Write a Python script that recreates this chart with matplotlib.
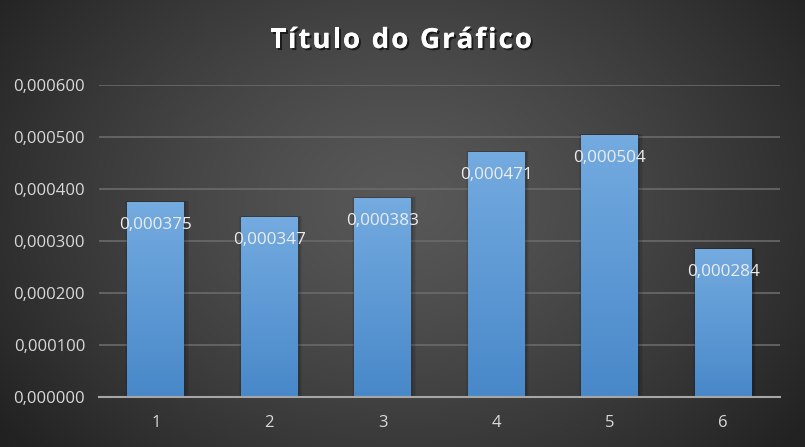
import numpy as np
import matplotlib
matplotlib.use("Agg")
import matplotlib.pyplot as plt
import matplotlib.patheffects as pe
from matplotlib.ticker import FuncFormatter, MultipleLocator

categories = ["1", "2", "3", "4", "5", "6"]
values = [0.000375, 0.000347, 0.000383, 0.000471, 0.000504, 0.000284]
labels = ["0,000375", "0,000347", "0,000383", "0,000471", "0,000504", "0,000284"]
title = "Título do Gráfico"

W, H = 805, 447
fig = plt.figure(figsize=(W / 100, H / 100), dpi=100)

# radial gradient background
bg = fig.add_axes([0, 0, 1, 1], zorder=-10)
yy, xx = np.mgrid[0:H, 0:W]
cx, cy = W * 0.5, H * 0.45
r = np.sqrt(((xx - cx) / (W * 0.62)) ** 2 + ((yy - cy) / (H * 0.85)) ** 2)
r = np.clip(r, 0, 1)
inner = np.array([0x58, 0x58, 0x58]) / 255
outer = np.array([0x22, 0x22, 0x22]) / 255
img = inner[None, None, :] * (1 - r[..., None] ** 1.3) + outer[None, None, :] * (r[..., None] ** 1.3)
bg.imshow(img, aspect="auto", extent=[0, 1, 0, 1], origin="upper")
bg.axis("off")

ax = fig.add_axes([99 / W, 1 - 397 / H, (780 - 99) / W, (397 - 85) / H])
ax.set_facecolor("none")
x = np.arange(len(categories))
bars = ax.bar(x, values, width=0.5, color="none", zorder=3)

grad = np.linspace(0, 1, 256)[:, None]
top_c = np.array([0x74, 0xab, 0xe0]) / 255
bot_c = np.array([0x48, 0x88, 0xc9]) / 255
gimg = top_c[None, None, :] * (1 - grad[..., None]) + bot_c[None, None, :] * grad[..., None]
gimg = np.repeat(gimg, 2, axis=1)

for b, lab in zip(bars, labels):
    x0, w, h = b.get_x(), b.get_width(), b.get_height()
    # soft shadow
    for k, a in [(0.06, 0.06), (0.04, 0.08), (0.02, 0.10)]:
        ax.bar(x0 + w / 2 + 0.01, h + 0.000002, width=w + k, color="black", alpha=a,
               zorder=2, linewidth=0)
    im = ax.imshow(gimg, extent=[x0, x0 + w, 0, h], aspect="auto", zorder=3, origin="upper")
    im.set_clip_path(b)
    ax.text(x0 + w / 2, h - 0.0000445, lab, ha="center", va="center", fontsize=12.3,
            color="#ececec", family="Open Sans", zorder=5)

ax.set_xlim(-0.5, len(categories) - 0.5)
ax.set_ylim(0, 0.0006)
ax.yaxis.set_major_locator(MultipleLocator(0.0001))
ax.yaxis.set_major_formatter(FuncFormatter(lambda v, p: f"{v:.6f}".replace(".", ",")))
ax.set_xticks(x)
ax.set_xticklabels(categories)
ax.grid(axis="y", color="#6a6a6a", linewidth=1.2, zorder=0)
ax.set_axisbelow(True)
for s in ["top", "right", "left"]:
    ax.spines[s].set_visible(False)
ax.spines["bottom"].set_color("#a6a6a6")
ax.spines["bottom"].set_linewidth(1.5)
ax.spines["bottom"].set_zorder(6)
ax.tick_params(axis="both", length=0, colors="#d9d9d9", labelsize=12)
ax.tick_params(axis="y", pad=10)
ax.tick_params(axis="x", pad=13)
for t in ax.get_xticklabels() + ax.get_yticklabels():
    t.set_family("Open Sans")

# title with letter spacing
fig.canvas.draw()
renderer = fig.canvas.get_renderer()
tkw = dict(fontsize=20, fontweight="bold", color="white", family="Open Sans", va="baseline",
           path_effects=[pe.withSimplePatchShadow(offset=(1.5, -1.5), shadow_rgbFace="black", alpha=0.6),
                         pe.Normal()])
target_left, target_right = 270, 532
ybase = 1 - 48 / H
widths = []
for ch in title:
    t = fig.text(0, 0, ch if ch != " " else "a", **tkw)
    bb = t.get_window_extent(renderer)
    widths.append(bb.width if ch != " " else bb.width * 0.45)
    t.remove()
total = sum(widths)
spacing = (target_right - target_left - total) / (len(title) - 1)
xpos = target_left
for ch, wch in zip(title, widths):
    if ch != " ":
        fig.text(xpos / W, ybase, ch, ha="left", **tkw)
    xpos += wch + spacing

fig.savefig("out.png", dpi=100)
